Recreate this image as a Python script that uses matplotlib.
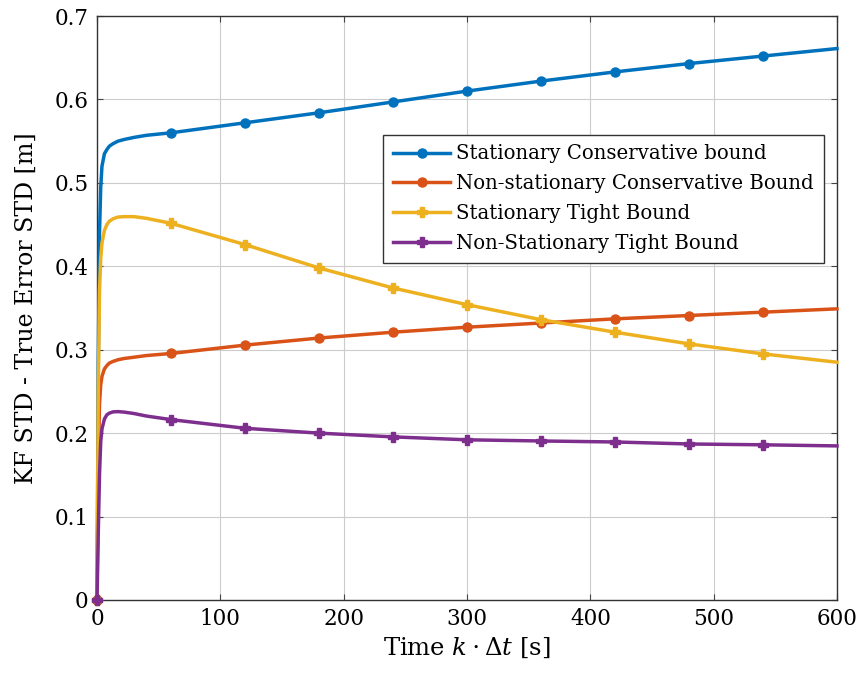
import matplotlib
matplotlib.use("Agg")
import matplotlib.pyplot as plt
from matplotlib.legend_handler import HandlerLine2D

# time samples [s]
t = [0, 1, 2, 3, 4, 6, 8, 10, 13, 17, 22, 30, 40, 60,
     120, 180, 240, 300, 360, 420, 480, 540, 600]

stat_cons = [0, 0.28, 0.44, 0.495, 0.52, 0.535, 0.540, 0.544, 0.547, 0.550, 0.552, 0.5545, 0.557, 0.560,
             0.572, 0.584, 0.597, 0.610, 0.622, 0.633, 0.643, 0.652, 0.661]
nonstat_cons = [0, 0.16, 0.235, 0.258, 0.268, 0.277, 0.281, 0.284, 0.286, 0.288, 0.2895, 0.291, 0.293, 0.2955,
                0.3055, 0.314, 0.321, 0.327, 0.332, 0.337, 0.341, 0.345, 0.349]
stat_tight = [0, 0.25, 0.37, 0.41, 0.428, 0.443, 0.450, 0.454, 0.457, 0.459, 0.4595, 0.4595, 0.4575, 0.4515,
              0.426, 0.398, 0.374, 0.354, 0.336, 0.321, 0.307, 0.295, 0.285]
nonstat_tight = [0, 0.08, 0.15, 0.19, 0.205, 0.217, 0.222, 0.224, 0.2255, 0.2258, 0.2252, 0.2235, 0.2205, 0.2162,
                 0.2058, 0.200, 0.1955, 0.192, 0.1906, 0.1894, 0.187, 0.186, 0.1847]

labels = ["Stationary Conservative bound", "Non-stationary Conservative Bound",
          "Stationary Tight Bound", "Non-Stationary Tight Bound"]
colors = ["#0072BD", "#D95319", "#EDB120", "#7E2F8E"]
markers = ["o", "o", "P", "P"]

# markers at t = 0, 60, ..., 540
mark_idx = [i for i, v in enumerate(t) if v % 60 == 0 and v < 600]

plt.rcParams["font.family"] = "DejaVu Serif"
plt.rcParams["mathtext.fontset"] = "dejavuserif"


class LeftMarker(HandlerLine2D):
    def get_xdata(self, legend, xdescent, ydescent, width, height, fontsize):
        return [-xdescent, -xdescent + width], [-xdescent + 2]


fig = plt.figure(figsize=(8.61, 6.73), dpi=100)
ax = fig.add_axes([0.1127, 0.1085, 0.8594, 0.8677])

for y, lab, c, m in zip([stat_cons, nonstat_cons, stat_tight, nonstat_tight], labels, colors, markers):
    ax.plot(t, y, color=c, lw=2.5, marker=m, markersize=6.5, markevery=mark_idx,
            label=lab, clip_on=False, zorder=3)

ax.set_xlim(0, 600)
ax.set_ylim(0, 0.7)
ax.set_xticks(range(0, 601, 100))
ax.set_yticks([0, 0.1, 0.2, 0.3, 0.4, 0.5, 0.6, 0.7])
ax.set_yticklabels(["0", "0.1", "0.2", "0.3", "0.4", "0.5", "0.6", "0.7"])
ax.tick_params(direction="in", top=True, right=True, labelsize=15.5, length=4, color="#444444", pad=6)
ax.grid(True, color="#cccccc", lw=0.8)
ax.set_axisbelow(True)
for s in ax.spines.values():
    s.set_color("#333333")
    s.set_linewidth(1.0)

ax.set_xlabel(r"Time $k\cdot\mathit{\Delta}t$ [s]", fontsize=17.5, labelpad=4)
ax.set_ylabel("KF STD - True Error STD [m]", fontsize=17, labelpad=12)

leg = ax.legend(loc="upper right", bbox_to_anchor=(0.982, 0.797), fontsize=14.2, numpoints=1,
                fancybox=False, framealpha=1, edgecolor="#333333", handlelength=2.9,
                handletextpad=0.3, borderpad=0.5, labelspacing=0.55, borderaxespad=0,
                handler_map={matplotlib.lines.Line2D: LeftMarker()})
leg.get_frame().set_linewidth(1.0)

fig.savefig("out.png", dpi=100)
